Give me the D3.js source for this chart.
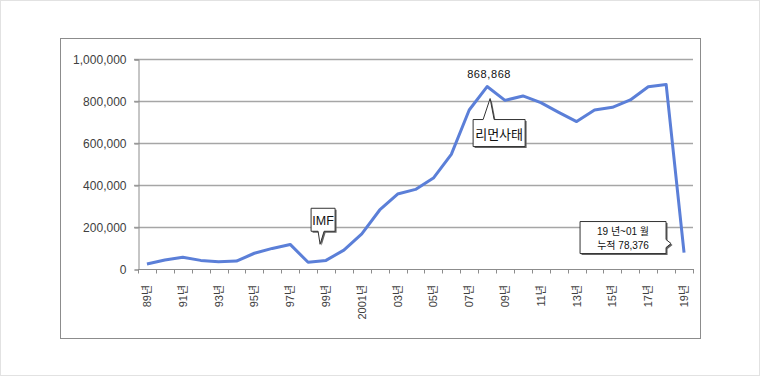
<html>
  <head>
    <meta charset="UTF-8">
    <script src="https://d3js.org/d3.v7.min.js"></script>
    <style type="text/css">
    body { margin: 0; background: #fff; }
    svg { font-family: 'Liberation Sans', 'Noto Sans CJK KR', sans-serif; }
    </style>
  </head>
  <body>
  </body>
  <script>
    // yearly counts 1989 ~ 2019 (2019 = Jan only)
    var years = d3.range(1989, 2020);
    var values = [24000, 43000, 56000, 41000, 35000, 38000, 75000, 98000, 117000, 32000,
                  41000, 90000, 167000, 281000, 357000, 379000, 433000, 546000, 757000, 868868,
                  803000, 824000, 792000, 746000, 702000, 757000, 770000, 805000, 868000, 879000,
                  78376];
    var yTicks = [0, 200000, 400000, 600000, 800000, 1000000];
    // label every other year
    function yearLabel(y) {
      if ((y - 1989) % 2 != 0) return "";
      if (y == 2001) return "2001년";
      return String(y).slice(2) + "년";
    }

    var W = 760, H = 376;
    var svg = d3.select("body").append("svg").attr("width", W).attr("height", H);

    // outer frame + chart box
    svg.append("rect").attr("x", 0.5).attr("y", 0.5).attr("width", W - 1).attr("height", H - 1)
      .attr("fill", "#fff").attr("stroke", "#e2e2e2");
    svg.append("rect").attr("x", 60.5).attr("y", 38.5).attr("width", 640).attr("height", 300)
      .attr("fill", "#fff").attr("stroke", "#8c8c8c");

    var x = d3.scaleBand().domain(years).range([138, 693]).padding(0);
    var y = d3.scaleLinear().domain([0, 1000000]).range([269, 59]);
    var cx = function(d) { return x(d) + x.bandwidth() / 2; };

    // gridlines
    svg.append("g").selectAll("line").data(yTicks.slice(1)).enter().append("line")
      .attr("x1", 134).attr("x2", 693)
      .attr("y1", function(d) { return Math.round(y(d)) + 0.5; })
      .attr("y2", function(d) { return Math.round(y(d)) + 0.5; })
      .attr("stroke", "#a6a6a6").attr("stroke-width", 1.3);

    // y axis
    var yAxis = svg.append("g").attr("transform", "translate(138.5,0.5)")
      .call(d3.axisLeft(y).tickValues(yTicks).tickFormat(d3.format(",")).tickSize(4).tickPadding(8));
    yAxis.select(".domain").attr("stroke", "#8c8c8c");
    yAxis.selectAll(".tick line").attr("stroke", "#8c8c8c");
    yAxis.selectAll("text").attr("font-size", "12px").attr("fill", "#404040");

    // x axis line + ticks on category boundaries
    var bounds = years.map(function(d) { return x(d); }).concat([x.range()[1]]);
    svg.append("line").attr("x1", 138).attr("x2", 693).attr("y1", 269.5).attr("y2", 269.5)
      .attr("stroke", "#8c8c8c");
    svg.append("g").selectAll("line").data(bounds).enter().append("line")
      .attr("x1", function(d) { return Math.round(d) + 0.5; })
      .attr("x2", function(d) { return Math.round(d) + 0.5; })
      .attr("y1", 269).attr("y2", 273.5).attr("stroke", "#8c8c8c");

    svg.append("g").selectAll("text").data(years).enter().append("text")
      .attr("transform", function(d) { return "translate(" + (cx(d) + 4) + ",285) rotate(-90)"; })
      .attr("text-anchor", "end")
      .attr("font-size", "11px")
      .attr("fill", "#404040")
      .text(yearLabel);

    // the line
    svg.append("path")
      .datum(years)
      .attr("fill", "none")
      .attr("stroke", "#5b7fd8")
      .attr("stroke-width", 3)
      .attr("stroke-linejoin", "round")
      .attr("d", d3.line()
        .x(function(d) { return cx(d); })
        .y(function(d, i) { return y(values[i]); }));

    // callouts
    function callout(pts, lines, tx, ty, size, lh) {
      var p = "M" + pts.map(function(q) { return q.join(","); }).join("L") + "Z";
      svg.append("path").attr("d", p).attr("transform", "translate(1.5,1.5)").attr("fill", "#666");
      svg.append("path").attr("d", p).attr("fill", "#fff").attr("stroke", "#333").attr("stroke-width", 1);
      lines.forEach(function(t, i) {
        svg.append("text").attr("x", tx).attr("y", ty + i * lh)
          .attr("text-anchor", "middle").attr("font-size", size).attr("fill", "#111")
          .text(t);
      });
    }

    // 1998 IMF
    var ix = cx(1998), iy = y(values[9]);
    callout([[ix + 3, iy - 54], [ix + 27, iy - 54], [ix + 27, iy - 31], [ix + 16, iy - 31],
             [ix + 12, iy - 18], [ix + 10, iy - 31], [ix + 3, iy - 31]],
            ["IMF"], ix + 15, iy - 37.5, "12.5px", 0);

    // 2008 peak
    var lx = cx(2008), ly = y(values[19]);
    svg.append("text").attr("x", lx + 2).attr("y", ly - 9).attr("text-anchor", "middle")
      .attr("font-size", "11px").attr("letter-spacing", "0.6px").attr("fill", "#111")
      .text(d3.format(",")(values[19]));
    callout([[lx - 14, ly + 33], [lx - 4, ly + 33], [lx + 3, ly + 12], [lx + 7, ly + 33],
             [lx + 38, ly + 33], [lx + 38, ly + 60], [lx - 14, ly + 60]],
            ["리먼사태"], lx + 12, ly + 52, "13px", 0);

    // 2019 Jan
    var jx = cx(2019), jy = y(values[30]);
    callout([[jx - 104, jy - 31], [jx - 18, jy - 31], [jx - 18, jy - 13], [jx - 13, jy - 9],
             [jx - 18, jy - 5], [jx - 18, jy + 1], [jx - 104, jy + 1]],
            ["19 년~01 월", "누적 " + d3.format(",")(values[30])], jx - 61, jy - 18, "10px", 14);
  </script>
</html>
